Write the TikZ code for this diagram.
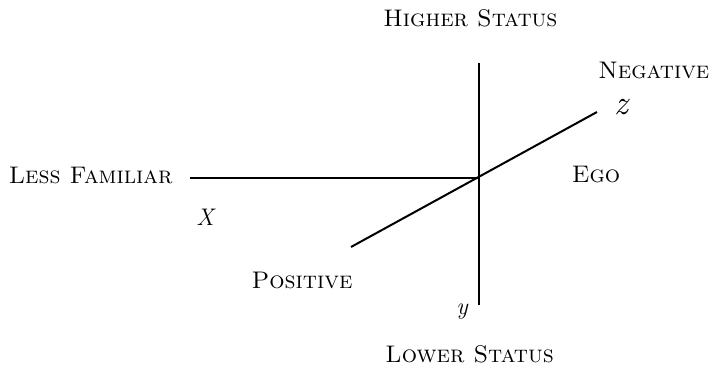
\documentclass[tikz,border=0pt]{standalone}
\usepackage{tikz}
\tikzset{
  axis/.style={line width=1pt},
  caps/.style={inner sep=0pt, font=\large\scshape},
  var/.style={inner sep=0pt, font=\large\itshape}}

\begin{document}
\begin{tikzpicture}[x=0.5pt,y=-0.5pt]
  \useasboundingbox (0,0) rectangle (712,373);
  % axis ends
  \coordinate (xend) at (190,178);
  \coordinate (orig) at (479,178);
  \coordinate (ytop) at (479,63);
  \coordinate (ybot) at (479,305);
  \coordinate (zlow) at (351,247);
  \coordinate (zhigh) at (597,112);
  \draw[axis] (xend) -- (orig);
  \draw[axis] (ytop) -- (ybot);
  \draw[axis] (zlow) -- (zhigh);
  % labels
  \node[caps, anchor=west] (higher) at (383,18) {Higher Status};
  \node[caps, anchor=west] (lower) at (385,354) {Lower Status};
  \node[caps, anchor=east] (lessfam) at (173,175) {Less Familiar};
  \node[caps, anchor=west] (neg) at (598,70) {Negative};
  \node[caps] (ego) at (596,175) {Ego};
  \node[caps] (pos) at (302,280) {Positive};
  \node[var] (xlab) at (205,217) {X};
  \node[var] (ylab) at (462,312) {y};
  \node[var, font=\LARGE\itshape] (zlab) at (621,107) {z};
\end{tikzpicture}
\end{document}
